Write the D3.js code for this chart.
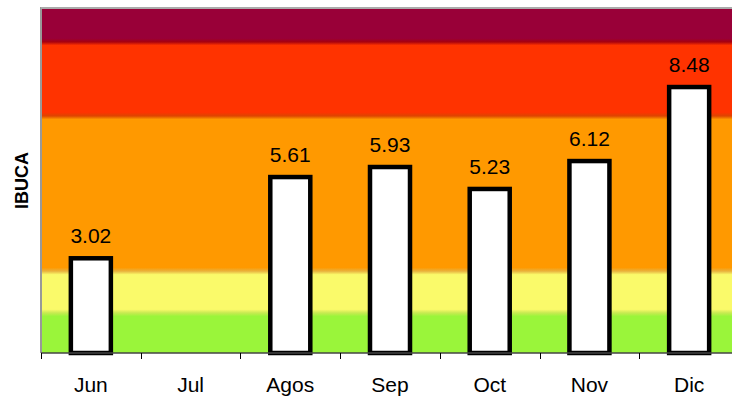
<!DOCTYPE html>
<html>
<head>
<meta charset="utf-8">
<script src="https://cdn.jsdelivr.net/npm/d3@7"></script>
<style>
  html, body { margin: 0; padding: 0; background: #fff; }
  svg { display: block; }
  text { font-family: "Liberation Sans", Arial, sans-serif; }
</style>
</head>
<body>
<svg id="chart" width="732" height="396"></svg>
<script>
// Monthly IBUCA values (Jul has no sample)
const months = ["Jun", "Jul", "Agos", "Sep", "Oct", "Nov", "Dic"];
const ibuca = [3.02, null, 5.61, 5.93, 5.23, 6.12, 8.48];

// Quality classes painted behind the bars (upper limit of each class)
const classLimits = [1.28, 2.61, 7.56, 9.92, 11];
const classColors = ["#9AF53A", "#FAFA6A", "#FF9900", "#FF3300", "#990038"];
const edgeColors = ["#C8EA52", "#E8B23E", "#DE4400", "#A8000F"];

const yMax = 11;

const svg = d3.select("#chart");
const plotLeft = 41, plotTop = 8, plotBottom = 353, plotRight = 739;

const x = d3.scaleBand().domain(months).range([plotLeft, plotRight]).padding(0);
const y = d3.scaleLinear().domain([0, yMax]).range([plotBottom, plotTop]);

// Vertical gradient for the soft class bands
const defs = svg.append("defs");
const grad = defs.append("linearGradient")
  .attr("id", "classBands")
  .attr("gradientUnits", "userSpaceOnUse")
  .attr("x1", 0).attr("x2", 0)
  .attr("y1", plotTop).attr("y2", plotBottom);

const off = v => (v - plotTop) / (plotBottom - plotTop);
const stops = [];
// from top to bottom: classes in reverse order
const n = classColors.length;
stops.push({o: 0, c: classColors[n - 1]});
for (let i = n - 2; i >= 0; i--) {
  const yb = y(classLimits[i]);
  stops.push({o: off(yb - 3.5), c: classColors[i + 1]});
  stops.push({o: off(yb), c: edgeColors[i]});
  stops.push({o: off(yb + 3.5), c: classColors[i]});
}
stops.push({o: 1, c: classColors[0]});
grad.selectAll("stop").data(stops).join("stop")
  .attr("offset", d => d.o)
  .attr("stop-color", d => d.c);

svg.append("rect")
  .attr("x", plotLeft).attr("y", plotTop)
  .attr("width", plotRight - plotLeft).attr("height", plotBottom - plotTop)
  .attr("fill", "url(#classBands)");

// Frame lines (left and top)
svg.append("line")
  .attr("x1", plotLeft).attr("x2", plotLeft).attr("y1", plotTop - 1).attr("y2", plotBottom)
  .attr("stroke", "#999").attr("stroke-width", 2);
svg.append("line")
  .attr("x1", plotLeft).attr("x2", plotRight).attr("y1", plotTop).attr("y2", plotTop)
  .attr("stroke", "#aaa").attr("stroke-width", 2);

// Bars
const data = months.map((m, i) => ({m, v: ibuca[i]})).filter(d => d.v != null);
const barW = 40;
svg.append("g").selectAll("rect").data(data).join("rect")
  .attr("x", d => x(d.m) + x.bandwidth() / 2 - barW / 2)
  .attr("y", d => y(d.v))
  .attr("width", barW)
  .attr("height", d => y(0) - y(d.v))
  .attr("fill", "#fff")
  .attr("stroke", "#000")
  .attr("stroke-width", 4.5);

// Value labels
svg.append("g").selectAll("text").data(data).join("text")
  .attr("x", d => x(d.m) + x.bandwidth() / 2)
  .attr("y", d => y(d.v) - 15)
  .attr("text-anchor", "middle")
  .attr("font-size", 21)
  .attr("fill", "#000")
  .text(d => d.v.toFixed(2));

// Category axis: ticks at the band boundaries
const axisG = svg.append("g");
axisG.append("line")
  .attr("x1", plotLeft).attr("x2", plotRight).attr("y1", plotBottom).attr("y2", plotBottom)
  .attr("stroke", "#444").attr("stroke-width", 1.5);
const bounds = months.map(m => x(m)).concat([plotRight]);
axisG.selectAll("line.tick").data(bounds).join("line")
  .attr("class", "tick")
  .attr("x1", d => Math.round(d) + 0.5).attr("x2", d => Math.round(d) + 0.5)
  .attr("y1", plotBottom).attr("y2", plotBottom + 6)
  .attr("stroke", "#000").attr("stroke-width", 1);
axisG.selectAll("text").data(months).join("text")
  .attr("x", d => x(d) + x.bandwidth() / 2)
  .attr("y", 392)
  .attr("text-anchor", "middle")
  .attr("font-size", 21)
  .attr("fill", "#000")
  .text(d => d);

// Y axis title
svg.append("text")
  .attr("transform", `translate(28, ${(plotTop + plotBottom) / 2}) rotate(-90)`)
  .attr("text-anchor", "middle")
  .attr("font-size", 18)
  .attr("font-weight", "bold")
  .attr("fill", "#000")
  .text("IBUCA");
</script>
</body>
</html>
